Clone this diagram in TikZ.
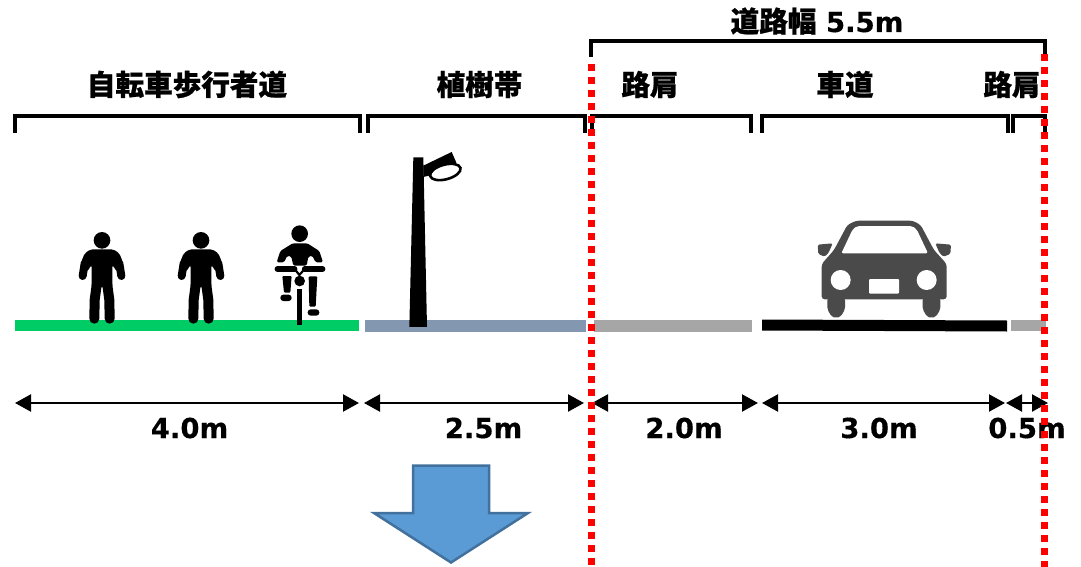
\documentclass[tikz,border=0pt]{standalone}
\usepackage{fontspec}
\setmainfont{DejaVu Sans}[BoldFeatures={FakeBold=0.4}]
\newfontfamily\cjk{Noto Sans CJK JP}[BoldFeatures={FakeBold=0.8}]
\usetikzlibrary{arrows.meta}
\definecolor{barGreen}{HTML}{00CC66}
\definecolor{barSlate}{HTML}{8497B0}
\definecolor{barGray}{HTML}{A6A6A6}
\definecolor{carGray}{HTML}{4A4A4A}
\definecolor{bigBlue}{HTML}{5B9BD5}
\definecolor{bigEdge}{HTML}{41719C}
\tikzset{
  cjklabel/.style={inner sep=0pt,font=\cjk\bfseries\fontsize{28.6}{30}\selectfont},
  numlabel/.style={inner sep=0pt,font=\bfseries\fontsize{27.5}{30}\selectfont},
  bracketline/.style={draw=black,line width=3.2pt,line join=miter},
  dimline/.style={draw=black,line width=2.2pt,{Triangle[length=16pt,width=17pt]}-{Triangle[length=16pt,width=17pt]}},
  reddots/.style={draw=red,line width=7pt,dash pattern=on 6.5pt off 6.5pt},
}
\newcommand{\personshape}[1]{%
\begin{scope}[shift={(#1,200)},scale=1/3]
  \fill[black] (0,121) circle (25);
  \fill[black,rounded corners=2pt] (-34,148) -- (34,148) -- (52,160) -- (62,185) -- (45,215) -- (31,195) -- (31,262) -- (-31,262) -- (-31,195) -- (-45,215) -- (-62,185) -- (-52,160) -- cycle;
  \draw[black,line width=8pt,line cap=round,line join=round] (-32,170) -- (-52,190) -- (-58,228);
  \draw[black,line width=8pt,line cap=round,line join=round] (32,170) -- (52,190) -- (58,228);
  \draw[black,line width=10pt,line cap=round,line join=round] (-16,255) -- (-22,300) -- (-23,356);
  \draw[black,line width=10pt,line cap=round,line join=round] (16,255) -- (22,300) -- (23,356);
\end{scope}}
\begin{document}
\begin{tikzpicture}[x=1pt,y=-1pt]
\useasboundingbox (0,0) rectangle (1081,567);
\fill[white] (0,0) rectangle (1081,567);

% ground strips
\fill[barGreen] (15,319.5) rectangle (359,331);
\fill[barSlate] (365,320) rectangle (586,331.5);
\fill[barGray] (594,320) rectangle (752,331.5);
\fill[black] (762,319.5) -- (1007,320.5) -- (1007,331.5) -- (762,330.5) -- cycle;
\fill[barGray] (1011,319.5) rectangle (1046,331);

% people
\personshape{102}
\personshape{201}

% cyclist
\begin{scope}[shift={(0,200)},scale=1/3]
  \fill[black] (899,101) circle (25);
  \fill[black,rounded corners=1.5pt] (878,130) -- (922,130) -- (958,153) -- (969,187) -- (947,187) -- (937,167) -- (925,170) -- (920,197) -- (880,197) -- (874,170) -- (862,167) -- (852,187) -- (830,187) -- (841,153) -- cycle;
  \draw[black,line width=5.5pt,line cap=round] (832,207) -- (884,207);
  \draw[black,line width=5.5pt,line cap=round] (914,207) -- (968,207);
  \draw[black,line width=2.2pt] (884,207) -- (898,225) -- (914,207);
  \fill[black] (899,243) circle (16);
  \fill[black] (891,268) rectangle (907,375);
  \fill[black,rounded corners=1pt] (847,228) -- (875,228) -- (871,278) -- (852,278) -- cycle;
  \fill[black,rounded corners=3pt] (841,284) rectangle (875,303);
  \fill[black,rounded corners=1pt] (926,229) -- (952,229) -- (947,320) -- (928,320) -- cycle;
  \fill[black,rounded corners=3pt] (923,328) rectangle (958,347);
\end{scope}

% lamp
\begin{scope}[shift={(360,100)},scale=1/3]
  \fill[black] (160,172) -- (190,172) -- (201,681) -- (148,681) -- cycle;
  \fill[black] (190,197) -- (275,156) -- (289,188) -- (215,225) -- (190,231) -- cycle;
  \draw[black,fill=white,line width=2.6pt] (256,216) ellipse [x radius=47,y radius=22,rotate=15];
\end{scope}

% car
\begin{scope}[shift={(750,200)},scale=1/3]
  \fill[carGray,rounded corners=2pt] (232,295) -- (285,295) -- (285,328) -- (272,350) -- (258,354) -- (245,350) -- (232,328) -- cycle;
  \fill[carGray,rounded corners=2pt] (518,295) -- (571,295) -- (571,328) -- (558,350) -- (544,354) -- (531,350) -- (518,328) -- cycle;
  \fill[carGray,rounded corners=1.5pt] (203,134) -- (248,130) -- (236,158) -- (224,170) -- (205,162) -- cycle;
  \fill[carGray,rounded corners=1.5pt] (603,134) -- (556,130) -- (568,158) -- (580,170) -- (601,162) -- cycle;
  \fill[carGray,rounded corners=3pt] (318,62) -- (488,62) -- (512,75) -- (552,150) -- (590,192) -- (590,298) -- (215,298) -- (215,192) -- (252,150) -- (292,75) -- cycle;
  \fill[white,rounded corners=2pt] (322,78) -- (486,78) -- (500,88) -- (534,160) -- (274,160) -- (308,88) -- cycle;
  \fill[white] (272,240) circle (30);
  \fill[white] (530,240) circle (30);
  \fill[white,rounded corners=1pt] (357,237) rectangle (447,281);
\end{scope}

% big arrow
\draw[fill=bigBlue,draw=bigEdge,line width=2.5pt,line join=miter] (413,465.5) -- (489,465.5) -- (489,513) -- (528,513) -- (451,562.5) -- (374,513) -- (413,513) -- cycle;

% bracket anchors
\coordinate (b1a) at (15,133); \coordinate (b1b) at (15,116); \coordinate (b1c) at (360,116); \coordinate (b1d) at (360,133);
\coordinate (b2a) at (368,133); \coordinate (b2b) at (368,116); \coordinate (b2c) at (585,116); \coordinate (b2d) at (585,133);
\coordinate (b3a) at (592,133); \coordinate (b3b) at (592,116); \coordinate (b3c) at (751,116); \coordinate (b3d) at (751,133);
\coordinate (b4a) at (762,133); \coordinate (b4b) at (762,116); \coordinate (b4c) at (1008,116); \coordinate (b4d) at (1008,133);
\coordinate (b5a) at (1013,133); \coordinate (b5b) at (1013,116); \coordinate (b5c) at (1045,116); \coordinate (b5d) at (1045,133);
\coordinate (b6a) at (591,57); \coordinate (b6b) at (591,41); \coordinate (b6c) at (1045,41); \coordinate (b6d) at (1045,57);
\foreach \n in {1,...,6} \draw[bracketline] (b\n a) -- (b\n b) -- (b\n c) -- (b\n d);

% dimension arrows
\coordinate (d1a) at (15,403); \coordinate (d1b) at (359,403);
\coordinate (d2a) at (364,403); \coordinate (d2b) at (584,403);
\coordinate (d3a) at (592,403); \coordinate (d3b) at (758,403);
\coordinate (d4a) at (762,403); \coordinate (d4b) at (1005,403);
\coordinate (d5a) at (1006,403); \coordinate (d5b) at (1048,403);
\foreach \n in {1,...,5} \draw[dimline] (d\n a) -- (d\n b);

% labels
\node[cjklabel] (t1) at (187,84.5) {自転車歩行者道};
\node[cjklabel] (t2) at (479.5,84.5) {植樹帯};
\node[cjklabel] (t3) at (650,84.5) {路肩};
\node[cjklabel] (t4) at (845,84.5) {車道};
\node[cjklabel] (t5) at (1012,84.5) {路肩};
\node[inner sep=0pt,anchor=base] (t6) at (817,32) {\bfseries\fontsize{27.5}{30}\selectfont{\cjk\fontsize{28.6}{30}\selectfont 道路幅} 5.5m};
\node[numlabel] (n1) at (189.5,428) {4.0m};
\node[numlabel] (n2) at (483.5,428) {2.5m};
\node[numlabel] (n3) at (684,428) {2.0m};
\node[numlabel] (n4) at (879,428) {3.0m};
\node[numlabel] (n5) at (1027,428) {0.5m};

% red boundaries
\coordinate (r1a) at (591,64.4); \coordinate (r1b) at (591,566);
\coordinate (r2a) at (1044.7,54.4); \coordinate (r2b) at (1044.7,567);
\draw[reddots] (r1a) -- (r1b);
\draw[reddots] (r2a) -- (r2b);
\end{tikzpicture}
\end{document}
